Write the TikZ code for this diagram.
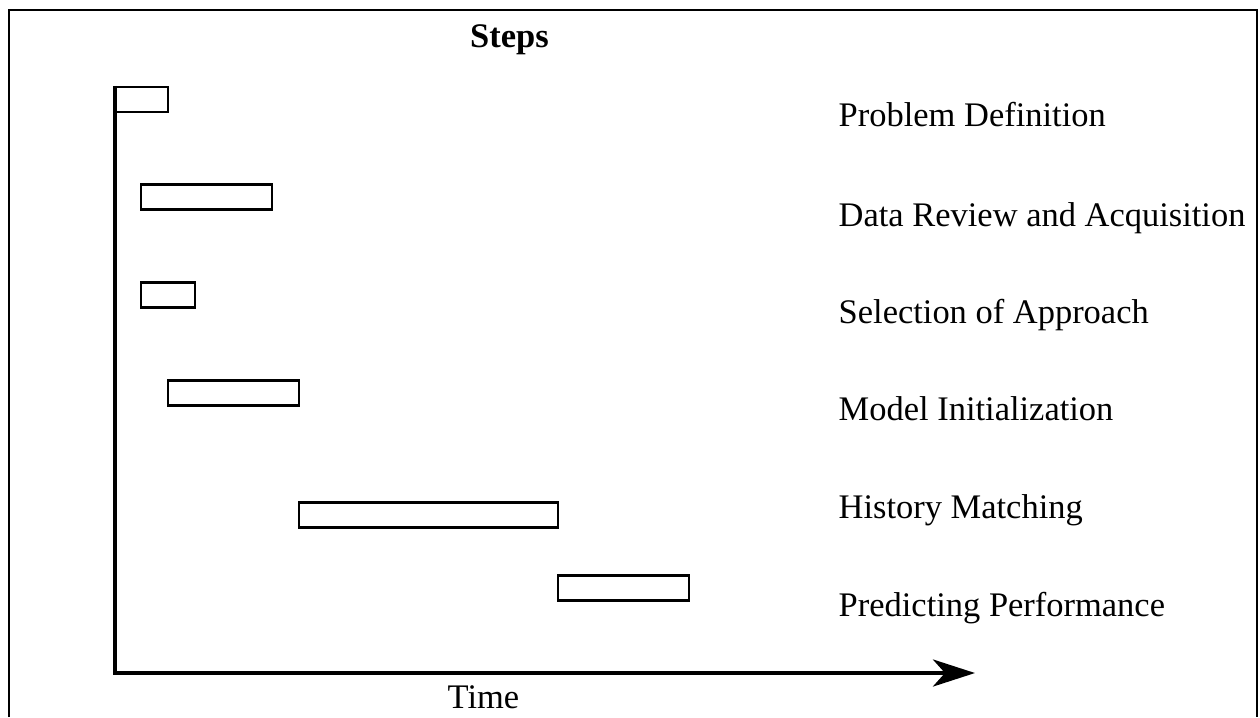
\documentclass[tikz,border=0pt]{standalone}
\usepackage{fontspec}
\setmainfont{Liberation Serif}
\usetikzlibrary{arrows.meta,positioning}

\begin{document}
\begin{tikzpicture}[
  x=0.01cm, y=-0.01cm,
  frame/.style={draw=black, line width=0.6pt},
  bar/.style={draw=black, line width=0.6pt, fill=white, anchor=west,
    minimum height=0.25cm, inner sep=0pt},
  axis/.style={line width=1.2pt, -{Stealth[length=0.42cm, width=0.27cm, inset=0.12cm]}},
  lbl/.style={font=\fontsize{9.8}{12}\selectfont, anchor=base west, inner sep=0pt},
  ttl/.style={font=\fontsize{9.8}{12}\selectfont, anchor=base, inner sep=0pt}
]
\useasboundingbox (0,0) rectangle (1260,717);
\draw[frame] (9,717) |- (1257,10) -- (1257,717);
% the steps
\node[bar, minimum width=0.52cm] (b1) at (115,99.5) {};
\node[bar, minimum width=1.31cm] (b2) at (140,197) {};
\node[bar, minimum width=0.54cm] (b3) at (140,295) {};
\node[bar, minimum width=1.31cm] (b4) at (167,393) {};
\node[bar, minimum width=2.59cm] (b5) at (298,515) {};
\node[bar, minimum width=1.31cm] (b6) at (557,588) {};
% axis
\coordinate (origin) at (115,673);
\coordinate (tip) at (975,673);
\draw[axis] (b1.north west) -- (origin) -- (tip);
% labels
\node[lbl] (l1) at (838,126) {Problem Definition};
\node[lbl] (l2) at (838,226.5) {Data Review and Acquisition};
\node[lbl] (l3) at (838,323) {Selection of Approach};
\node[lbl] (l4) at (838,420) {Model Initialization};
\node[lbl] (l5) at (838,518) {History Matching};
\node[lbl] (l6) at (838,616) {Predicting Performance};
\node[ttl, font=\fontsize{9.8}{12}\selectfont\bfseries] (steps) at (509.5,47) {Steps};
\node[ttl] (time) at (483.5,708) {Time};
\end{tikzpicture}
\end{document}
